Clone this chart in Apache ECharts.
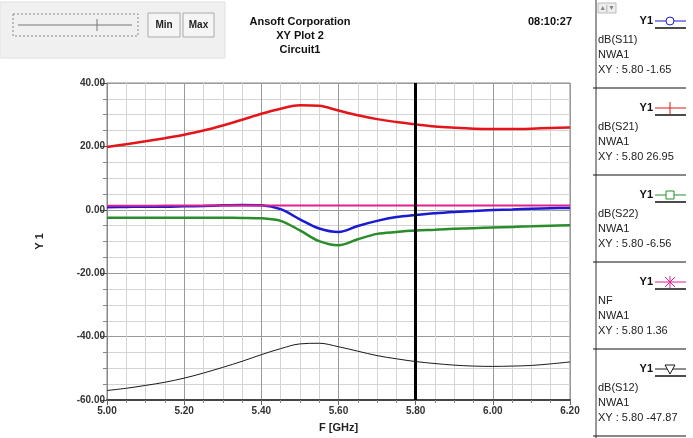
<!DOCTYPE html>
<html>
<head>
<meta charset="utf-8">
<script src="https://cdn.jsdelivr.net/npm/echarts@6/dist/echarts.min.js"></script>
<style>
html,body{margin:0;padding:0;background:#fff;}
#c{width:693px;height:438px;}
</style>
</head>
<body>
<div id="c"></div>
<script>
// ---- data ----
const freq = [5.00,5.05,5.10,5.15,5.20,5.25,5.30,5.35,5.40,5.45,5.50,5.55,5.60,5.65,5.70,5.75,5.80,5.85,5.90,5.95,6.00,6.05,6.10,6.15,6.20];
const s11 = [0.8,0.9,1.0,1.0,1.1,1.2,1.4,1.5,1.4,0.2,-3.0,-5.9,-7.0,-5.1,-3.5,-2.3,-1.65,-1.1,-0.7,-0.4,-0.1,0.1,0.35,0.5,0.6];
const s21 = [19.8,20.7,21.6,22.6,23.7,25.0,26.6,28.4,30.3,31.9,33.0,32.8,31.3,29.8,28.6,27.7,26.95,26.3,25.9,25.6,25.5,25.5,25.6,25.8,26.0];
const s22 = [-2.5,-2.5,-2.5,-2.5,-2.5,-2.5,-2.5,-2.55,-2.7,-3.5,-6.5,-9.9,-11.2,-9.3,-7.6,-7.0,-6.56,-6.3,-6.0,-5.8,-5.6,-5.4,-5.2,-5.0,-4.9];
const nf  = [1.3,1.3,1.3,1.32,1.33,1.34,1.35,1.35,1.36,1.36,1.36,1.36,1.36,1.36,1.36,1.36,1.36,1.36,1.37,1.37,1.37,1.38,1.38,1.38,1.38];
const s12 = [-57.0,-56.3,-55.4,-54.4,-53.1,-51.5,-49.7,-47.8,-45.7,-43.8,-42.3,-42.1,-43.2,-44.6,-46.0,-47.0,-47.87,-48.5,-49.0,-49.3,-49.4,-49.3,-49.1,-48.6,-48.0];
const traceNames = ['dB(S11)','dB(S21)','dB(S22)','NF','dB(S12)'];
const markerValues = ['-1.65','26.95','-6.56','1.36','-47.87'];
const cursorX = 5.80;
const xTicks = {min:5.0, max:6.2, step:0.2};
const yTicks = {min:-60, max:40, step:20};
const titleLines = ['Ansoft Corporation','XY Plot 2','Circuit1'];
const timeText = '08:10:27';

// ---- styles ----
const colors = ['#1a1ad0','#e3141a','#2a8c2a','#e0208c','#1a1a1a'];
const widths = [2.5,2.5,2.5,2,1];
const FONT = "'Liberation Sans', Arial, sans-serif";
const allVals = [s11,s21,s22,nf,s12];

const chart = echarts.init(document.getElementById('c'), null, {renderer:'canvas'});

const series = allVals.map((v,i)=>({
  name: traceNames[i], type:'line', showSymbol:false, smooth:0.35,
  data: freq.map((f,k)=>[f, v[k]]),
  lineStyle:{color:colors[i], width:widths[i]},
  itemStyle:{color:colors[i]},
  z: i===4?2:3,
  animation:false
}));
series.push({
  type:'line', data:[], silent:true, animation:false,
  markLine:{silent:true, symbol:['none','none'], label:{show:false},
    lineStyle:{color:'#000', width:3, type:'solid'},
    data:[{xAxis:cursorX}]}
});

// ---- graphics (chrome) ----
const g = [];
g.push({type:'rect', shape:{x:0,y:2,width:225,height:56}, style:{fill:'#f0f0f0', stroke:'#e0e0e0'}});
g.push({type:'rect', shape:{x:13,y:14,width:125,height:22}, style:{fill:'#f0f0f0', stroke:'#888', lineDash:[2,2]}});
g.push({type:'line', shape:{x1:18,y1:25,x2:132,y2:25}, style:{stroke:'#777', lineWidth:1}});
g.push({type:'line', shape:{x1:97,y1:19,x2:97,y2:31}, style:{stroke:'#777', lineWidth:1}});
g.push({type:'rect', shape:{x:148,y:13,width:32,height:24}, style:{fill:'#f5f5f5', stroke:'#aaa'}});
g.push({type:'rect', shape:{x:183,y:13,width:31,height:24}, style:{fill:'#f5f5f5', stroke:'#aaa'}});
g.push({type:'text', style:{text:'Min', x:164, y:25, font:'bold 10px '+FONT, fill:'#222', align:'center', verticalAlign:'middle'}});
g.push({type:'text', style:{text:'Max', x:198.5, y:25, font:'bold 10px '+FONT, fill:'#222', align:'center', verticalAlign:'middle'}});
titleLines.forEach((t,i)=>g.push({type:'text', style:{text:t, x:300, y:22+i*14, font:'bold 11px '+FONT, fill:'#111', align:'center', verticalAlign:'middle'}}));
g.push({type:'text', style:{text:timeText, x:572, y:22, font:'bold 11px '+FONT, fill:'#111', align:'right', verticalAlign:'middle'}});
g.push({type:'line', shape:{x1:596,y1:0,x2:596,y2:438}, style:{stroke:'#999', lineWidth:2}});
g.push({type:'rect', shape:{x:598,y:3,width:18,height:10}, style:{fill:'#eee', stroke:'#bbb'}});
g.push({type:'text', style:{text:'▲|▼', x:607, y:8, font:'7px '+FONT, fill:'#888', align:'center', verticalAlign:'middle'}});

const entryTop = 21, entryGap = 87;
traceNames.forEach((nm,i)=>{
  const y0 = entryTop + i*entryGap;
  const c = colors[i];
  g.push({type:'text', style:{text:'Y1', x:653, y:y0, font:'bold 11px '+FONT, fill:'#111', align:'right', verticalAlign:'middle'}});
  g.push({type:'line', shape:{x1:655,y1:y0,x2:686,y2:y0}, style:{stroke:c, lineWidth:1}});
  g.push({type:'line', shape:{x1:655,y1:y0+7,x2:686,y2:y0+7}, style:{stroke:'#111', lineWidth:1.5}});
  const cx = 670;
  if(i===0) g.push({type:'circle', shape:{cx:cx,cy:y0,r:4}, style:{fill:'#fff', stroke:c, lineWidth:1}});
  if(i===1) g.push({type:'line', shape:{x1:cx,y1:y0-6,x2:cx,y2:y0+6}, style:{stroke:c, lineWidth:1}});
  if(i===2) g.push({type:'rect', shape:{x:cx-4,y:y0-4,width:8,height:8}, style:{fill:'#fff', stroke:c, lineWidth:1}});
  if(i===3){
    g.push({type:'line', shape:{x1:cx,y1:y0-6,x2:cx,y2:y0+6}, style:{stroke:c, lineWidth:1}});
    g.push({type:'line', shape:{x1:cx-5,y1:y0-5,x2:cx+5,y2:y0+5}, style:{stroke:c, lineWidth:1}});
    g.push({type:'line', shape:{x1:cx-5,y1:y0+5,x2:cx+5,y2:y0-5}, style:{stroke:c, lineWidth:1}});
  }
  if(i===4) g.push({type:'polygon', shape:{points:[[cx-5,y0-4],[cx+5,y0-4],[cx,y0+5]]}, style:{fill:'#fff', stroke:c, lineWidth:1}});
  g.push({type:'text', style:{text:nm, x:598, y:y0+19, font:'11px '+FONT, fill:'#222', align:'left', verticalAlign:'middle'}});
  g.push({type:'text', style:{text:'NWA1', x:598, y:y0+34, font:'11px '+FONT, fill:'#222', align:'left', verticalAlign:'middle'}});
  g.push({type:'text', style:{text:'XY : '+cursorX.toFixed(2)+' '+markerValues[i], x:598, y:y0+49, font:'11px '+FONT, fill:'#222', align:'left', verticalAlign:'middle'}});
  g.push({type:'line', shape:{x1:593,y1:y0+67,x2:686,y2:y0+67}, style:{stroke:'#111', lineWidth:1}});
});

const option = {
  animation:false,
  backgroundColor:'#fff',
  grid:{left:107, right:123, top:83, bottom:32, show:true, borderColor:'#888', borderWidth:1, containLabel:false},
  xAxis:{
    type:'value', min:xTicks.min, max:xTicks.max, interval:xTicks.step,
    name:'F [GHz]', nameLocation:'middle', nameGap:22,
    nameTextStyle:{fontFamily:FONT, fontWeight:'bold', fontSize:11, color:'#222'},
    axisLine:{show:true, onZero:false, lineStyle:{color:'#444', width:2}},
    axisTick:{show:true, length:5, lineStyle:{color:'#666'}},
    minorTick:{show:true, splitNumber:4, length:3, lineStyle:{color:'#888'}},
    axisLabel:{formatter:v=>v.toFixed(2), fontFamily:FONT, fontWeight:'bold', fontSize:10, color:'#333', margin:6},
    splitLine:{show:true, lineStyle:{color:'#9a9a9a', width:1}},
    minorSplitLine:{show:true, lineStyle:{color:'#d4d4d4', width:1}}
  },
  yAxis:{
    type:'value', min:yTicks.min, max:yTicks.max, interval:yTicks.step,
    name:'Y 1', nameLocation:'middle', nameGap:62, nameRotate:90,
    nameTextStyle:{fontFamily:FONT, fontWeight:'bold', fontSize:11, color:'#222'},
    axisLine:{show:true, onZero:false, lineStyle:{color:'#888', width:1}},
    axisTick:{show:true, length:7, lineStyle:{color:'#555'}},
    minorTick:{show:true, splitNumber:4, length:4, lineStyle:{color:'#888'}},
    axisLabel:{formatter:v=>v.toFixed(2), fontFamily:FONT, fontWeight:'bold', fontSize:10, color:'#333', margin:2},
    splitLine:{show:true, lineStyle:{color:'#9a9a9a', width:1}},
    minorSplitLine:{show:true, lineStyle:{color:'#d4d4d4', width:1}}
  },
  series: series,
  graphic: g
};
chart.setOption(option);
</script>
</body>
</html>
